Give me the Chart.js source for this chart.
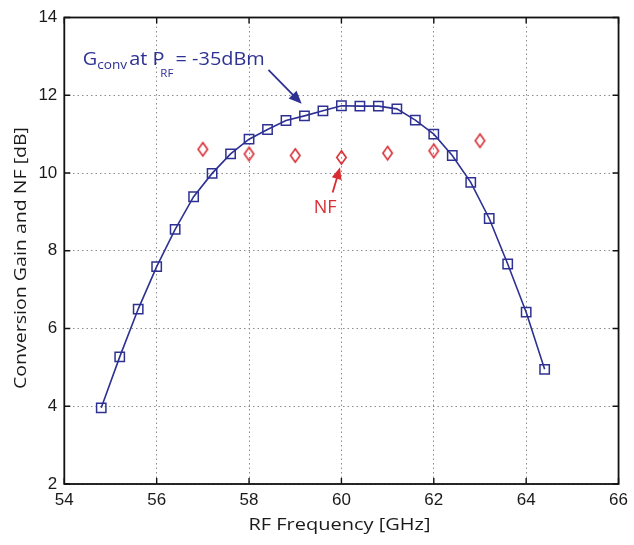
<!DOCTYPE html>
<html>
<head>
<meta charset="utf-8">
<script src="https://cdn.jsdelivr.net/npm/chart.js@4/dist/chart.umd.min.js"></script>
<style>
  html, body { margin: 0; padding: 0; background: #fff; }
  #wrap { width: 634px; height: 545px; position: relative; }
</style>
</head>
<body>
<div id="wrap"><canvas id="c"></canvas></div>
<script>
// RF frequency points of the conversion-gain sweep [GHz]
const gainFreq = [54.8, 55.2, 55.6, 56.0, 56.4, 56.8, 57.2, 57.6, 58.0, 58.4, 58.8, 59.2, 59.6,
                  60.0, 60.4, 60.8, 61.2, 61.6, 62.0, 62.4, 62.8, 63.2, 63.6, 64.0, 64.4];
// Conversion gain at P_RF = -35 dBm [dB]
const gainDb = [3.96, 5.27, 6.50, 7.59, 8.55, 9.39, 9.99, 10.49, 10.87, 11.12, 11.35, 11.47, 11.60,
                11.73, 11.72, 11.72, 11.65, 11.36, 11.00, 10.45, 9.76, 8.83, 7.66, 6.42, 4.95];
// Noise-figure measurement points
const nfFreq = [57, 58, 59, 60, 61, 62, 63];
const nfDb = [10.61, 10.49, 10.45, 10.40, 10.51, 10.57, 10.83];
// Axis tick values
const xTicks = [54, 56, 58, 60, 62, 64, 66];
const yTicks = [2, 4, 6, 8, 10, 12, 14];

const BLUE = '#2e3192';
const RED = '#d82c33';
const TITLE_FONT = '"Open Sans", "Noto Sans", sans-serif';
const TICK_FONT = '"Liberation Sans", Arial, sans-serif';

// Hollow MATLAB-style diamond marker (taller than wide)
function diamondMarker() {
  const cv = document.createElement('canvas');
  cv.width = 13; cv.height = 17;
  const g = cv.getContext('2d');
  g.strokeStyle = RED; g.lineWidth = 1.6;
  g.beginPath();
  g.moveTo(6.5, 1.8); g.lineTo(11.2, 8.5); g.lineTo(6.5, 15.2); g.lineTo(1.8, 8.5); g.closePath();
  g.stroke();
  return cv;
}

function arrow(ctx, x1, y1, x2, y2, color, len, half) {
  const a = Math.atan2(y2 - y1, x2 - x1);
  ctx.save();
  ctx.strokeStyle = color; ctx.fillStyle = color; ctx.lineWidth = 1.8;
  ctx.beginPath();
  ctx.moveTo(x1, y1);
  ctx.lineTo(x2 - Math.cos(a) * len * 0.8, y2 - Math.sin(a) * len * 0.8);
  ctx.stroke();
  ctx.beginPath();
  ctx.moveTo(x2, y2);
  ctx.lineTo(x2 - Math.cos(a) * len - Math.sin(a) * half, y2 - Math.sin(a) * len + Math.cos(a) * half);
  ctx.lineTo(x2 - Math.cos(a) * len + Math.sin(a) * half, y2 - Math.sin(a) * len - Math.cos(a) * half);
  ctx.closePath();
  ctx.fill();
  ctx.restore();
}

// Draw a run of text pieces (with sub-scripts) squeezed to a given width
function richText(ctx, parts, x, y, width, color) {
  let total = 0;
  parts.forEach(p => { ctx.font = p.font; p.w = ctx.measureText(p.text).width; total += p.w + (p.gap || 0); });
  const sx = width / total;
  ctx.save();
  ctx.fillStyle = color;
  ctx.textBaseline = 'alphabetic';
  ctx.textAlign = 'left';
  ctx.translate(x, y);
  ctx.scale(sx, 1);
  let cx = 0;
  parts.forEach(p => { ctx.font = p.font; ctx.fillText(p.text, cx, p.dy || 0); cx += p.w + (p.gap || 0); });
  ctx.restore();
}

function squeezedText(ctx, text, font, cx, cy, width, rot, color) {
  ctx.save();
  ctx.font = font;
  ctx.fillStyle = color;
  ctx.textAlign = 'center';
  ctx.textBaseline = 'middle';
  const w = ctx.measureText(text).width;
  ctx.translate(cx, cy);
  ctx.rotate(rot);
  ctx.scale(width / w, 1);
  ctx.fillText(text, 0, 0);
  ctx.restore();
}

const framePlugin = {
  id: 'frame',
  afterDraw(chart) {
    const { ctx, chartArea: a, scales } = chart;
    const xs = scales.x, ys = scales.y;
    ctx.save();
    // inward tick marks on all four sides
    ctx.strokeStyle = '#111';
    ctx.lineWidth = 1.4;
    ctx.beginPath();
    xTicks.forEach(v => {
      const px = xs.getPixelForValue(v);
      ctx.moveTo(px, a.bottom); ctx.lineTo(px, a.bottom - 6);
      ctx.moveTo(px, a.top); ctx.lineTo(px, a.top + 6);
    });
    yTicks.forEach(v => {
      const py = ys.getPixelForValue(v);
      ctx.moveTo(a.left, py); ctx.lineTo(a.left + 6, py);
      ctx.moveTo(a.right, py); ctx.lineTo(a.right - 6, py);
    });
    ctx.stroke();
    // box around the axes
    ctx.lineWidth = 1.8;
    ctx.strokeRect(a.left, a.top, a.right - a.left, a.bottom - a.top);
    ctx.restore();

    // axis titles
    squeezedText(ctx, 'RF Frequency [GHz]', '17px ' + TITLE_FONT, (a.left + a.right) / 2 - 2, 525, 182, 0, '#1a1a1a');
    squeezedText(ctx, 'Conversion Gain and NF [dB]', '17px ' + TITLE_FONT, 21.5, 258, 262, -Math.PI / 2, '#1a1a1a');

    // gain annotation
    const gx = xs.getPixelForValue(54.4), gy = ys.getPixelForValue(12.77);
    richText(ctx, [
      { text: 'G', font: '19px ' + TITLE_FONT },
      { text: 'conv', font: '13px ' + TITLE_FONT, dy: 3.5, gap: 2 },
      { text: 'at P', font: '19px ' + TITLE_FONT, gap: -4 },
      { text: 'RF', font: '11px ' + TITLE_FONT, dy: 12, gap: 2 },
      { text: '= -35dBm', font: '19px ' + TITLE_FONT }
    ], gx, gy, 182, BLUE);
    arrow(ctx, xs.getPixelForValue(58.42), ys.getPixelForValue(12.65),
               xs.getPixelForValue(59.14), ys.getPixelForValue(11.78), BLUE, 13, 5.5);

    // NF annotation
    ctx.save();
    ctx.font = '18px ' + TITLE_FONT;
    ctx.fillStyle = RED;
    ctx.textAlign = 'left';
    ctx.textBaseline = 'alphabetic';
    ctx.fillText('NF', xs.getPixelForValue(59.4), ys.getPixelForValue(8.97));
    ctx.restore();
    arrow(ctx, xs.getPixelForValue(59.81), ys.getPixelForValue(9.5),
               xs.getPixelForValue(59.97), ys.getPixelForValue(10.15), RED, 12, 5);
  }
};

function build() {
  new Chart(document.getElementById('c'), {
    type: 'scatter',
    data: {
      datasets: [
        {
          label: 'Gconv',
          data: gainFreq.map((f, i) => ({ x: f, y: gainDb[i] })),
          showLine: true,
          borderColor: BLUE,
          borderWidth: 1.6,
          pointStyle: 'rect',
          pointRadius: 6.6,
          pointBorderWidth: 1.5,
          pointBorderColor: BLUE,
          pointBackgroundColor: 'rgba(0,0,0,0)',
          tension: 0
        },
        {
          label: 'NF',
          data: nfFreq.map((f, i) => ({ x: f, y: nfDb[i] })),
          showLine: false,
          pointStyle: diamondMarker(),
          pointRadius: 7
        }
      ]
    },
    options: {
      responsive: true,
      maintainAspectRatio: false,
      devicePixelRatio: 1,
      animation: false,
      layout: { padding: { left: 0, top: 17.5, right: 11.7, bottom: 0 } },
      plugins: { legend: { display: false }, tooltip: { enabled: false } },
      scales: {
        x: {
          type: 'linear',
          min: 54, max: 66,
          afterBuildTicks: s => { s.ticks = xTicks.map(v => ({ value: v })); },
          afterFit: s => { s.height = 61; },
          ticks: { color: '#1a1a1a', font: { family: TICK_FONT, size: 17 }, padding: 6, maxRotation: 0 },
          grid: { color: '#8c8c8c', lineWidth: 1, drawTicks: false },
          border: { display: false, dash: [1.5, 3] }
        },
        y: {
          type: 'linear',
          min: 2, max: 14,
          afterBuildTicks: s => { s.ticks = yTicks.map(v => ({ value: v })); },
          afterFit: s => { s.width = 64.3; },
          ticks: { color: '#1a1a1a', font: { family: TICK_FONT, size: 17 }, padding: 7 },
          grid: { color: '#8c8c8c', lineWidth: 1, drawTicks: false },
          border: { display: false, dash: [1.5, 3] }
        }
      }
    },
    plugins: [framePlugin]
  });
}

const fontLoads = ['17px "Open Sans"', '19px "Open Sans"', '17px "Liberation Sans"']
  .map(f => document.fonts.load(f).catch(() => null));
Promise.all(fontLoads).then(build, build);
</script>
</body>
</html>
